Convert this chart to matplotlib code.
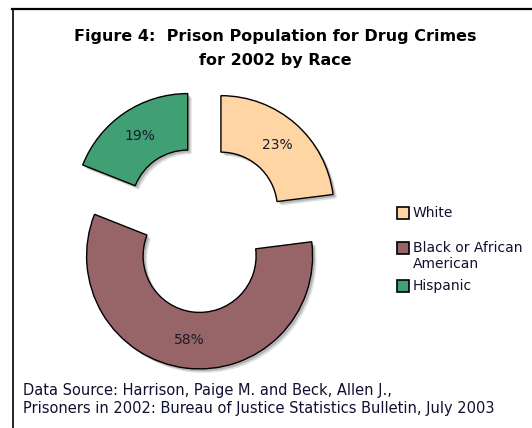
import matplotlib
matplotlib.use("Agg")
import matplotlib.pyplot as plt
from matplotlib.patches import Rectangle
from matplotlib.lines import Line2D

# Share of state prison population held for drug offenses, 2002
races = ["White", "Black or African\nAmerican", "Hispanic"]
shares = [23, 58, 19]
colors = ["#FFD5A4", "#976567", "#40A073"]

W, H = 532, 428
fig = plt.figure(figsize=(W / 100, H / 100), dpi=100)
fig.patch.set_facecolor("white")

# donut placement (pixel centre and outer radius)
cx, cy, R = 203, 229, 113
L = 1.4
S = 2 * L * R
ax = fig.add_axes([(cx - S / 2) / W, (H - cy - S / 2) / H, S / W, S / H])
ax.set_xlim(-L, L)
ax.set_ylim(-L, L)
ax.set_aspect("equal")
ax.axis("off")

explode = [0.24] * len(shares)

# soft drop shadow under each ring segment
for dx, dy, a in [(0.035, -0.035, 0.18), (0.022, -0.022, 0.3)]:
    ax.pie(shares, explode=explode, startangle=90, counterclock=False,
           radius=1.0, center=(dx, dy), colors=["#555555"] * 3,
           wedgeprops=dict(width=0.5, linewidth=0, alpha=a))

wedges, _, autotexts = ax.pie(
    shares, explode=explode, startangle=90, counterclock=False, radius=1.0,
    colors=colors, autopct=lambda p: f"{round(p)}%", pctdistance=0.75,
    wedgeprops=dict(width=0.5, edgecolor="black", linewidth=1.0),
    textprops=dict(fontsize=10, color="#1a1a2a"))
ax.set_xlim(-L, L)
ax.set_ylim(-L, L)

# title
fig.text(275 / W, 1 - 37 / H, "Figure 4:  Prison Population for Drug Crimes",
         ha="center", va="center", fontsize=11.5, fontweight="bold", color="black")
fig.text(275 / W, 1 - 60 / H, "for 2002 by Race",
         ha="center", va="center", fontsize=11.5, fontweight="bold", color="black")

# legend
legend_y = [213, 248, 286]
for lab, col, y in zip(races, colors, legend_y):
    fig.add_artist(Rectangle((397 / W, 1 - (y + 6) / H), 12 / W, 12 / H,
                             transform=fig.transFigure, facecolor=col,
                             edgecolor="black", linewidth=1.2))
    lines = lab.split("\n")
    for k, line in enumerate(lines):
        fig.text(413 / W, 1 - (y + 16 * k) / H, line, ha="left", va="center",
                 fontsize=10, color="#101030")

# source note
fig.text(23 / W, 1 - 391 / H, "Data Source: Harrison, Paige M. and Beck, Allen J.,",
         ha="left", va="center", fontsize=10.5, color="#101030")
fig.text(23 / W, 1 - 408 / H,
         "Prisoners in 2002: Bureau of Justice Statistics Bulletin, July 2003",
         ha="left", va="center", fontsize=10.5, color="#101030")

# frame lines along the top and left
fig.add_artist(Line2D([12 / W, 1], [1 - 8.5 / H, 1 - 8.5 / H],
                      transform=fig.transFigure, color="black", linewidth=1.6))
fig.add_artist(Line2D([12.5 / W, 12.5 / W], [0, 1 - 8.5 / H],
                      transform=fig.transFigure, color="black", linewidth=1.2))

fig.savefig("out.png", dpi=100, facecolor="white")
